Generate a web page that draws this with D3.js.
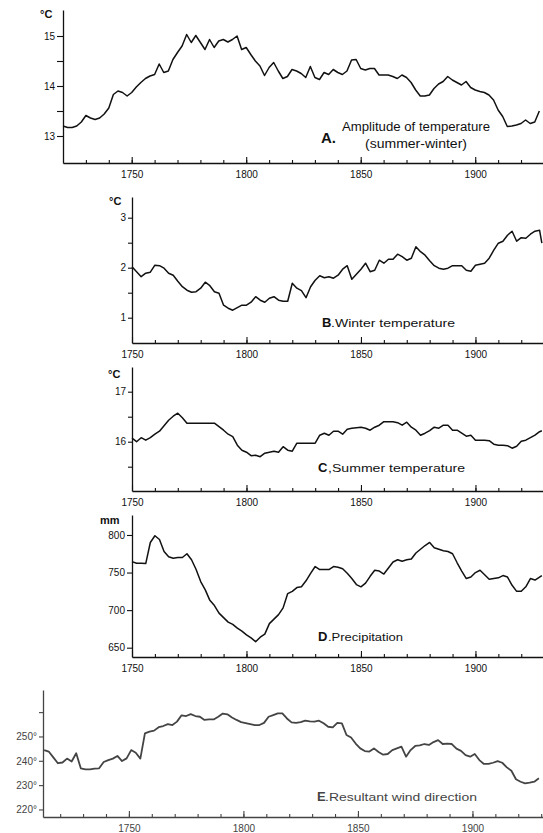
<!DOCTYPE html>
<html>
<head>
<meta charset="utf-8">
<script src="https://cdn.jsdelivr.net/npm/d3@7"></script>
<style>
  body { margin: 0; background: #fff; }
  svg { display: block; }
  text { font-family: "Liberation Sans Narrow", "Liberation Sans", Arial, sans-serif; }
</style>
</head>
<body>
<script>
// ---- data (2-year steps) ----
const yearsA = d3.range(1720, 1929, 2);
const amplitudeA = [
  13.2, 13.17, 13.17, 13.2, 13.28, 13.41, 13.36, 13.33, 13.36, 13.44,
  13.56, 13.83, 13.9, 13.87, 13.8, 13.87, 13.98, 14.07, 14.15, 14.2,
  14.23, 14.44, 14.27, 14.3, 14.53, 14.67, 14.8, 15.03, 14.87, 15.01,
  14.87, 14.73, 14.93, 14.77, 14.9, 14.93, 14.88, 14.93, 15.0, 14.73,
  14.77, 14.63, 14.5, 14.4, 14.21, 14.37, 14.47, 14.3, 14.15, 14.19,
  14.33, 14.3, 14.25,
  14.17, 14.39, 14.17, 14.13, 14.27, 14.23, 14.33, 14.27, 14.23, 14.3,
  14.52, 14.53, 14.35, 14.32, 14.35, 14.35, 14.22, 14.22, 14.22, 14.19,
  14.15, 14.22, 14.17, 14.07, 13.92, 13.8, 13.8, 13.82, 13.95, 14.04,
  14.09, 14.19, 14.12, 14.07, 14.02, 14.09, 13.97, 13.92, 13.89, 13.87,
  13.82, 13.72, 13.52, 13.39, 13.19, 13.2, 13.22, 13.25, 13.32, 13.25,
  13.28, 13.5
];

const yearsBCD = d3.range(1750, 1929, 2).concat([1929]);
const winterB = [
  2.02, 1.92, 1.82, 1.89, 1.91, 2.05, 2.04, 1.99, 1.89, 1.85,
  1.73, 1.62, 1.55, 1.51, 1.52, 1.59, 1.71, 1.64, 1.52, 1.49,
  1.25, 1.19, 1.15, 1.2, 1.25, 1.25, 1.31, 1.42, 1.35, 1.31,
  1.39, 1.42, 1.35, 1.33, 1.33, 1.69, 1.59, 1.54, 1.4, 1.62,
  1.75, 1.84, 1.8, 1.82, 1.79, 1.85, 1.97, 2.04, 1.77, 1.87,
  1.97, 2.09, 1.92, 1.95, 2.15, 2.09, 2.17, 2.17, 2.27, 2.22,
  2.15, 2.19, 2.42, 2.32, 2.25, 2.14, 2.04, 1.99, 1.97, 1.99,
  2.04, 2.04, 2.04, 1.95, 1.93, 2.05, 2.07, 2.09, 2.19, 2.35,
  2.49, 2.53, 2.65, 2.73, 2.53, 2.6, 2.59, 2.67, 2.73, 2.75,
  2.49
];
const summerC = [
  16.07, 16.0, 16.08, 16.03, 16.08, 16.15, 16.21, 16.32, 16.43, 16.51,
  16.57, 16.48, 16.37, 16.37, 16.37, 16.37, 16.37, 16.37, 16.37, 16.3,
  16.23, 16.15, 16.1, 15.93, 15.83, 15.79, 15.72, 15.73, 15.7, 15.77,
  15.79, 15.81, 15.79, 15.9, 15.83, 15.81, 15.97, 15.97, 15.97, 15.97,
  15.97, 16.13, 16.17, 16.13, 16.21, 16.21, 16.15, 16.25, 16.27, 16.28,
  16.29, 16.27, 16.23, 16.29, 16.33, 16.4, 16.4, 16.4, 16.38, 16.33,
  16.39, 16.29, 16.23, 16.13, 16.17, 16.22, 16.29, 16.27, 16.33, 16.33,
  16.23, 16.23, 16.17, 16.11, 16.13, 16.03, 16.03, 16.03, 16.02, 15.95,
  15.93, 15.93, 15.92, 15.87, 15.91, 16.01, 16.03, 16.08, 16.13, 16.2,
  16.22
];
const precipD = [
  764.6, 762.4, 762.4, 762, 790, 799, 794, 778, 771, 769,
  770, 770, 775, 767, 754, 738, 727, 713, 706, 696,
  690, 684, 681, 676, 672, 667, 663, 658, 664, 668,
  682, 688, 694, 703, 722, 725, 730, 731, 739, 749,
  758, 754, 754, 754, 758, 757, 755, 749, 742, 734,
  731, 736, 745, 753, 752, 748, 756, 764, 767, 765,
  767, 768, 776, 781, 786, 790, 783, 781, 779, 778,
  775, 763, 752, 742, 744, 750, 753, 747, 741, 742,
  743, 746, 744, 733, 725, 725, 731, 742, 740, 744,
  746
];

const yearsE = d3.range(1713, 1930, 2);
const windE = [
  244.4, 243.8, 241.4, 239.0, 239.3, 240.9, 239.7, 243.1, 236.9, 236.5,
  236.5, 236.8, 236.9, 239.5, 240.3, 240.9, 242, 239.9, 241, 244.4,
  243.3, 240.9, 251.3, 252, 252.4, 253.8, 254.3, 255.1, 254.7, 256.1,
  258.7, 258.4, 259.2, 258.4, 258.1, 256.8, 257, 257, 258.1, 259.4,
  259.1, 257.8, 256.8, 255.9, 255.5, 255.1, 254.7, 254.7, 255.6, 258.1,
  258.8, 259.5, 259.5, 257.4, 255.8, 255.6, 255.9, 256.5, 256.2, 256.1,
  256.5, 255.4, 254.0, 253.7, 255.6, 255.4, 250.6, 249.6, 247.1, 245.1,
  244, 243.8, 245.1, 243.6, 242.5, 242.8, 244.4, 245.1, 245.8, 241.7,
  244.4, 246.1, 246.3, 246.9, 246.5, 247.7, 248.5, 246.9, 247.1, 246.9,
  245, 244.1, 242.3, 241.7, 242.8, 240.3, 238.7, 238.7, 239.2, 239.9,
  239.2, 237.3, 235.9, 232.4, 231.4, 230.7, 231, 231.4, 232.8
];

const majorYears = [1750, 1800, 1850, 1900];

// ---- svg ----
let width = 543, height = 833;
let svg = d3.select("body").append("svg")
    .attr("width", width)
    .attr("height", height);

let panels = [
  { years: yearsA, values: amplitudeA,
    xDomain: [1720, 1929.6], xRange: [63, 543],
    yDomain: [12.46, 15.52], yRange: [163, 10],
    yTicks: [13, 13.5, 14, 14.5, 15], yLabels: [13, 14, 15], fmt: d => d,
    yTickSize: 6, color: "#111", lineW: 1.5,
    unit: "°C", unitX: 40, unitY: 18 },
  { years: yearsBCD, values: winterB,
    xDomain: [1750, 1929.5], xRange: [132, 543],
    yDomain: [0.494, 3.414], yRange: [343, 197],
    yTicks: [1, 1.5, 2, 2.5, 3], yLabels: [1, 2, 3], fmt: d => d,
    yTickSize: 4, color: "#111", lineW: 1.5,
    unit: "°C", unitX: 109, unitY: 205 },
  { years: yearsBCD, values: summerC,
    xDomain: [1750, 1929.5], xRange: [132, 543],
    yDomain: [15.014, 17.494], yRange: [491, 367],
    yTicks: [15.5, 16, 16.5, 17], yLabels: [16, 17], fmt: d => d,
    yTickSize: 4, color: "#111", lineW: 1.5,
    unit: "°C", unitX: 108, unitY: 378 },
  { years: yearsBCD, values: precipD,
    xDomain: [1750, 1929.5], xRange: [132, 543],
    yDomain: [637.6, 826.6], yRange: [657, 515],
    yTicks: [650, 700, 750, 800], yLabels: [650, 700, 750, 800], fmt: d => d,
    yTickSize: 5, color: "#111", lineW: 1.5,
    unit: "mm", unitX: 100, unitY: 524 },
  { years: yearsE, values: windE,
    xDomain: [1712.5, 1930.8], xRange: [43, 543],
    yDomain: [216.9, 269.1], yRange: [817, 690],
    yTicks: [220, 230, 240, 250, 260], yLabels: [220, 230, 240, 250], fmt: d => d + "°",
    yTickSize: 4, color: "#444", lineW: 1.8,
    unit: "", unitX: 0, unitY: 0 }
];

function drawPanel(p) {
  let x = d3.scaleLinear().domain(p.xDomain).range(p.xRange);
  let y = d3.scaleLinear().domain(p.yDomain).range(p.yRange);
  let g = svg.append("g").attr("color", p.color);

  // y axis
  let ya = g.append("g")
      .attr("transform", "translate(" + p.xRange[0] + ",0)")
      .call(d3.axisLeft(y)
        .tickValues(p.yTicks)
        .tickSize(p.yTickSize)
        .tickSizeOuter(0)
        .tickPadding(2)
        .tickFormat(d => p.yLabels.includes(d) ? p.fmt(d) : ""));

  // x axis: decade ticks, then labelled half-century ticks
  let decades = d3.range(Math.ceil(p.xDomain[0] / 10) * 10, p.xDomain[1], 10)
      .filter(d => x(d) > p.xRange[0] + 2);
  let xa = g.append("g")
      .attr("transform", "translate(0," + p.yRange[0] + ")")
      .call(d3.axisBottom(x).tickValues(decades).tickSize(-3).tickSizeOuter(0).tickFormat(""));
  let xb = g.append("g")
      .attr("transform", "translate(0," + p.yRange[0] + ")")
      .call(d3.axisBottom(x).tickValues(majorYears).tickSize(-6).tickSizeOuter(0)
        .tickPadding(8).tickFormat(d3.format("d")));
  xb.select(".domain").remove();

  g.selectAll(".domain").attr("stroke-width", 1.3);
  g.selectAll(".tick line").attr("stroke-width", 1.1);
  g.selectAll(".tick text")
      .attr("font-family", null).attr("font-size", null)
      .style("font-size", "10px")
      .style("fill", p.color);

  // the series
  g.append("path")
      .datum(d3.zip(p.years, p.values))
      .attr("fill", "none")
      .attr("stroke", p.color)
      .attr("stroke-width", p.lineW)
      .attr("stroke-linejoin", "round")
      .attr("d", d3.line().x(d => x(d[0])).y(d => y(d[1])));

  if (p.unit) {
    g.append("text")
        .attr("x", p.unitX).attr("y", p.unitY)
        .style("font-size", "11px").style("font-weight", "bold")
        .style("fill", p.color)
        .text(p.unit);
  }
}

panels.forEach(drawPanel);

// ---- panel captions ----
function caption(letter, rest, lx, baseY, restX, restLen, color) {
  svg.append("text")
      .attr("x", lx).attr("y", baseY)
      .style("font-size", "13px").style("font-weight", "bold")
      .style("fill", color)
      .text(letter);
  svg.append("text")
      .attr("x", restX).attr("y", baseY)
      .attr("textLength", restLen).attr("lengthAdjust", "spacingAndGlyphs")
      .style("font-size", "10.5px")
      .style("fill", color)
      .text(rest);
}

svg.append("text")
    .attr("x", 321).attr("y", 143)
    .style("font-size", "15px").style("font-weight", "bold").style("fill", "#111")
    .text("A.");
svg.append("text")
    .attr("x", 342).attr("y", 131)
    .attr("textLength", 148).attr("lengthAdjust", "spacingAndGlyphs")
    .style("font-size", "12px").style("fill", "#111")
    .text("Amplitude of temperature");
svg.append("text")
    .attr("x", 365).attr("y", 148)
    .attr("textLength", 102).attr("lengthAdjust", "spacingAndGlyphs")
    .style("font-size", "12px").style("fill", "#111")
    .text("(summer-winter)");

caption("B", ".Winter temperature", 322, 327, 331, 124, "#111");
caption("C", ",Summer temperature", 318, 472, 328, 137, "#111");
caption("D", ".Precipitation", 318, 641, 328, 75, "#111");
caption("E", ".Resultant wind direction", 317, 801, 325, 152, "#444");
</script>
</body>
</html>
